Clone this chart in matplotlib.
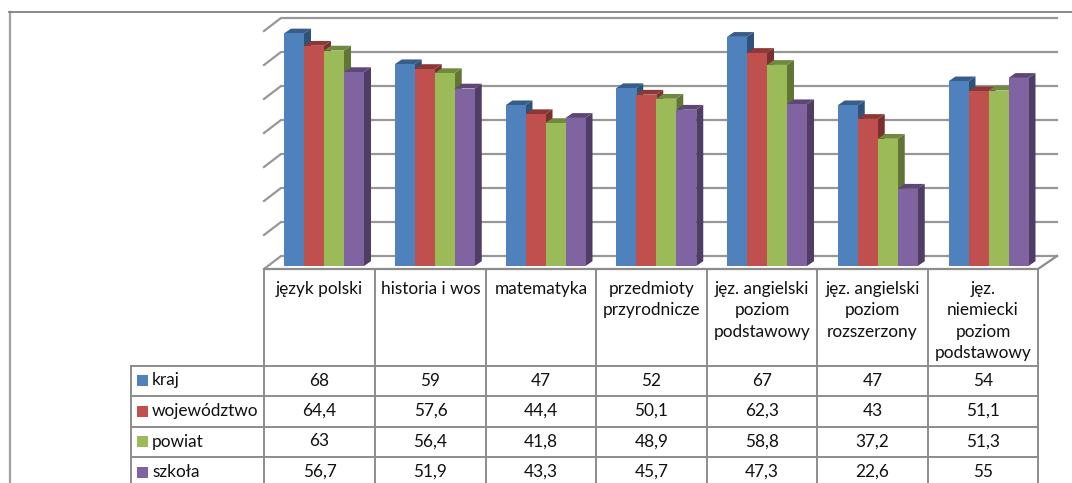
import matplotlib
matplotlib.use("Agg")
import matplotlib.pyplot as plt
from matplotlib.patches import Polygon, Rectangle

plt.rcParams["font.family"] = ["Lato", "DejaVu Sans"]

categories = ["język polski", "historia i wos", "matematyka", "przedmioty\nprzyrodnicze",
              "jęz. angielski\npoziom\npodstawowy", "jęz. angielski\npoziom\nrozszerzony",
              "jęz.\nniemiecki\npoziom\npodstawowy"]
series_names = ["kraj", "województwo", "powiat", "szkoła"]
kraj = [68, 59, 47, 52, 67, 47, 54]
wojewodztwo = [64.4, 57.6, 44.4, 50.1, 62.3, 43, 51.1]
powiat = [63, 56.4, 41.8, 48.9, 58.8, 37.2, 51.3]
szkola = [56.7, 51.9, 43.3, 45.7, 47.3, 22.6, 55]
all_series = [kraj, wojewodztwo, powiat, szkola]

front = ["#4F81BD", "#C0504D", "#9BBB59", "#8064A2"]
top = ["#385D8A", "#8C3836", "#71893F", "#5C4776"]
side = ["#2F5378", "#7A302E", "#617636", "#4F3D66"]
GRID = "#8C8C8C"
FS = 12.4

W, H = 1072, 483
fig = plt.figure(figsize=(W / 100, H / 100), dpi=100)

# background axes in pixels: frame, grid and table
bg = fig.add_axes([0, 0, 1, 1])
bg.set_xlim(0, W)
bg.set_ylim(H, 0)
bg.axis("off")

col_x = [264, 375, 486, 596, 707, 817, 928, 1038]
row_y = [366, 396, 427, 457]

bg.plot([9.5, 9.5], [H, 12], color="#A0A0A0", lw=1.6)
bg.plot([9, W], [12, 12], color="#808080", lw=1.3)

for k in range(8):
    y = 256 - 34 * k
    bg.plot([264, 281, 1057], [y + 13, y, y], color=GRID, lw=1.6, alpha=0.9,
            solid_joinstyle="miter")
bg.plot([264, 1038, 1057], [269, 269, 256], color=GRID, lw=1.6)

for x in col_x:
    bg.plot([x, x], [269, H], color=GRID, lw=1.4)
bg.plot([131, 131], [366, H], color=GRID, lw=1.4)
for y in row_y:
    bg.plot([131, 1038], [y, y], color=GRID, lw=1.4)

for i, name in enumerate(categories):
    cx = (col_x[i] + col_x[i + 1]) / 2
    bg.text(cx, 281, name, ha="center", va="top", fontsize=FS, color="#111111", linespacing=1.41)

row_centers = [380.5, 411, 441.5, 472]
for r, name in enumerate(series_names):
    bg.add_patch(Rectangle((137, row_centers[r] - 5.5), 11, 11, color=front[r], lw=0))
    bg.text(152, row_centers[r], name, ha="left", va="center", fontsize=FS, color="#111111")
    for i, v in enumerate(all_series[r]):
        cx = (col_x[i] + col_x[i + 1]) / 2
        bg.text(cx, row_centers[r], str(v).replace(".", ","), ha="center", va="center",
                fontsize=FS, color="#111111")

# bar axes: x in categories, y in values
PX_X = 110.75
PX_Y = 3.42
ax = fig.add_axes([0, 0, 1, 1])
ax.patch.set_alpha(0)
ax.axis("off")
ax.set_xlim(-264 / PX_X, (W - 264) / PX_X)
ax.set_ylim(-(H - 266) / PX_Y, 266 / PX_Y)

bar_w = 20 / PX_X
first = 20 / PX_X
dx = 7 / PX_X
dy = 4.8 / PX_Y

z = 2
for s, vals in enumerate(all_series):
    xs = [i + first + s * bar_w for i in range(len(vals))]
    for x, v in zip(xs, vals):
        ax.add_patch(Polygon([(x + bar_w, 0), (x + bar_w + dx, dy), (x + bar_w + dx, v + dy), (x + bar_w, v)],
                             closed=True, color=side[s], lw=0, zorder=z))
        ax.add_patch(Polygon([(x, v), (x + bar_w, v), (x + bar_w + dx, v + dy), (x + dx, v + dy)],
                             closed=True, color=top[s], lw=0, zorder=z))
    ax.bar(xs, vals, width=bar_w, align="edge", color=front[s], lw=0, zorder=z + 1)
    z += 2

fig.savefig("out.png", dpi=100)
